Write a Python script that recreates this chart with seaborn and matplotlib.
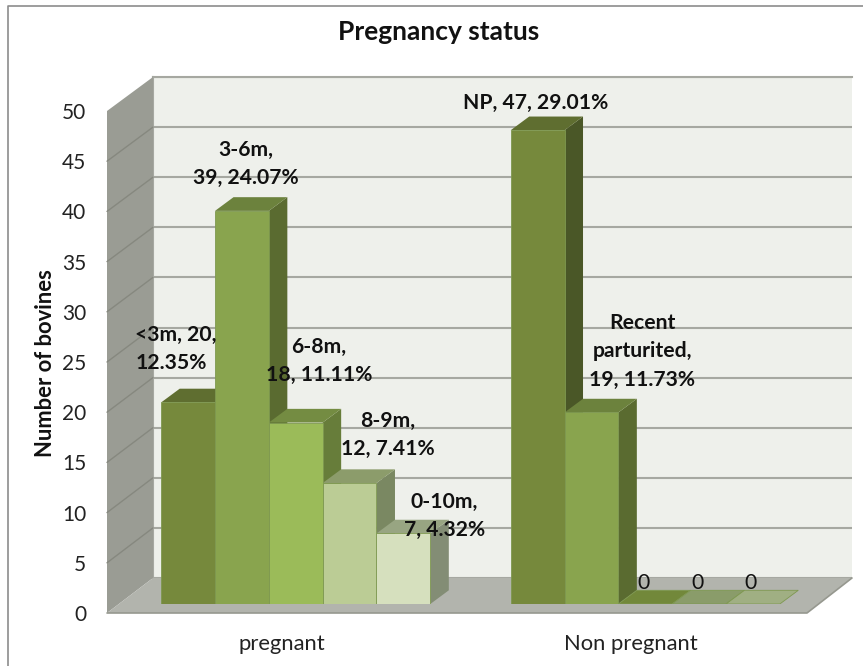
import pandas as pd
import matplotlib
matplotlib.use('Agg')
import matplotlib.pyplot as plt
import seaborn as sns
from matplotlib.patches import Polygon

# values
groups = ['pregnant', 'Non pregnant']
series = ['s1', 's2', 's3', 's4', 's5']
pregnant_vals = [20, 39, 18, 12, 7]
non_pregnant_vals = [47, 19, 0, 0, 0]
y_ticks = [0, 5, 10, 15, 20, 25, 30, 35, 40, 45, 50]

labels = ['<3m, 20,\n12.35%', '3-6m,\n39, 24.07%', '6-8m,\n18, 11.11%',
          '8-9m,\n12, 7.41%', '0-10m,\n7, 4.32%',
          'NP, 47, 29.01%', 'Recent\nparturited,\n19, 11.73%', '0', '0', '0']

# colours per series: front, top, side
front_cols = ['#76893C', '#89A44E', '#9BBB59', '#BBCC95', '#D6E0BE']
top_cols = ['#5F6E30', '#6C823D', '#748C42', '#8C9C6B', '#98A582']
side_cols = ['#4A5727', '#5A6B30', '#677D3A', '#7A8862', '#838D75']
floor_top_cols = ['#72883A', '#8A9C6A', '#A0AF83']

# label offsets from the top centre of each bar, in pixels
offsets = [(-12, 53), (4, 47), (23, 62), (38, 48), (41, 17),
           (-2, 27), (51, 61), (-2, 21), (-2, 21), (-2, 21)]

W, H = 863, 666
DEPTH_X, DEPTH_Y = 18.5, 13.7

sns.set_theme(style='white')
plt.rcParams['font.family'] = ['Lato', 'DejaVu Sans']

fig = plt.figure(figsize=(W / 100, H / 100), dpi=100)


def plane(left, base, top, zorder):
    # all planes of the 3D box are 699 px wide, ylim 0-50
    a = fig.add_axes([left / W, 1 - base / H, 699 / W, (base - top) / H], zorder=zorder)
    a.set_xlim(-0.5, 1.5)
    a.set_ylim(0, 50)
    return a


# 1. back wall
ax_back = plane(153, 578, 77, 0)
ax_back.set_facecolor('#EEF0EB')
ax_back.set_xticks([])
ax_back.set_yticks(y_ticks)
ax_back.tick_params(left=False, labelleft=False)
ax_back.grid(axis='y', color='#A6A8A1', lw=1.5)
for s in ['right', 'bottom']:
    ax_back.spines[s].set_visible(False)
for s in ['top', 'left']:
    ax_back.spines[s].set_color('#A6A8A1')
    ax_back.spines[s].set_linewidth(1.5)

# 2. side wall, floor and outer frame in pixel coordinates
ax_px = fig.add_axes([0, 0, 1, 1], zorder=1)
ax_px.set_xlim(0, W)
ax_px.set_ylim(H, 0)
ax_px.axis('off')
ax_px.add_patch(Polygon([(107, 613), (153, 578), (153, 77), (107, 111)], fc='#9A9C94', ec='none'))
ax_px.add_patch(Polygon([(107, 613), (807, 613), (852, 578), (153, 578)], fc='#B2B4AD', ec='none'))
ax_px.plot([107, 807, 852], [613, 613, 578], color='#96988F', lw=1.2)
for v in y_ticks[1:-1]:
    ax_px.plot([107, 153], [613 - v * 10.04, 578 - v * 10.02], color='#86887F', lw=1)
ax_px.plot([7.5, 7.5, W], [H, 5.5, 5.5], color='#8C8C8C', lw=1.2)

# 3. bars
ax = plane(121, 604, 100, 2)
ax.patch.set_alpha(0)
df = pd.DataFrame({
    'group': [groups[0]] * 5 + [groups[1]] * 5,
    'series': series * 2,
    'value': pregnant_vals + non_pregnant_vals,
})
sns.barplot(data=df, x='group', y='value', hue='series', order=groups, hue_order=series,
            palette=front_cols, saturation=1, width=0.77, gap=0, legend=False,
            edgecolor='#7E9850', linewidth=0.6, ax=ax)
ax.set_xlim(-0.5, 1.5)
ax.set_ylim(0, 50)
ax.axis('off')

dx = DEPTH_X / 349.5
dy = DEPTH_Y / 10.08
bars = sorted(ax.patches, key=lambda p: p.get_x())
for i, b in enumerate(bars):
    x0, x1, h = b.get_x(), b.get_x() + b.get_width(), b.get_height()
    k = i % 5
    b.set_zorder(50)
    if h == 0:
        ax.add_patch(Polygon([(x0, 0), (x1, 0), (x1 + dx, dy), (x0 + dx, dy)],
                             fc=floor_top_cols[k - 2], ec='#7E9850', lw=0.6, zorder=10 + i))
        b.set_visible(False)
    else:
        ax.add_patch(Polygon([(x1, 0), (x1 + dx, dy), (x1 + dx, h + dy), (x1, h)],
                             fc=side_cols[k], ec='none', zorder=10 + i))
        ax.add_patch(Polygon([(x0, h), (x1, h), (x1 + dx, h + dy), (x0 + dx, h + dy)],
                             fc=top_cols[k], ec='none', zorder=10 + i))
    zero = h == 0
    ax.annotate(labels[i], xy=((x0 + x1) / 2, h), xytext=offsets[i], textcoords='offset pixels',
                ha='center', va='center', multialignment='left' if i == 0 else 'center',
                fontsize=15.2, fontweight='normal' if zero else 'bold', color='#111111',
                linespacing=1.5, zorder=60, annotation_clip=False)

# 4. front plane: tick labels and axis title
ax_front = plane(107, 613, 111, 3)
ax_front.patch.set_alpha(0)
ax_front.set_xticks([0, 1], groups)
ax_front.set_yticks(y_ticks)
ax_front.tick_params(length=0, labelsize=15, labelcolor='#222222')
ax_front.tick_params(axis='x', pad=15, labelsize=15.8)
ax_front.tick_params(axis='y', pad=15)
for s in ax_front.spines.values():
    s.set_visible(False)
ax_front.set_ylabel('Number of bovines', fontsize=15.8, fontweight='bold', color='#111111')
ax_front.yaxis.set_label_coords((56 - 107) / 699, (613 - 363) / 502)

fig.text(439 / W, 1 - 32 / H, 'Pregnancy status', ha='center', va='center',
         fontsize=19, fontweight='bold', color='#111111')

fig.savefig('out.png', dpi=100, facecolor='white')
